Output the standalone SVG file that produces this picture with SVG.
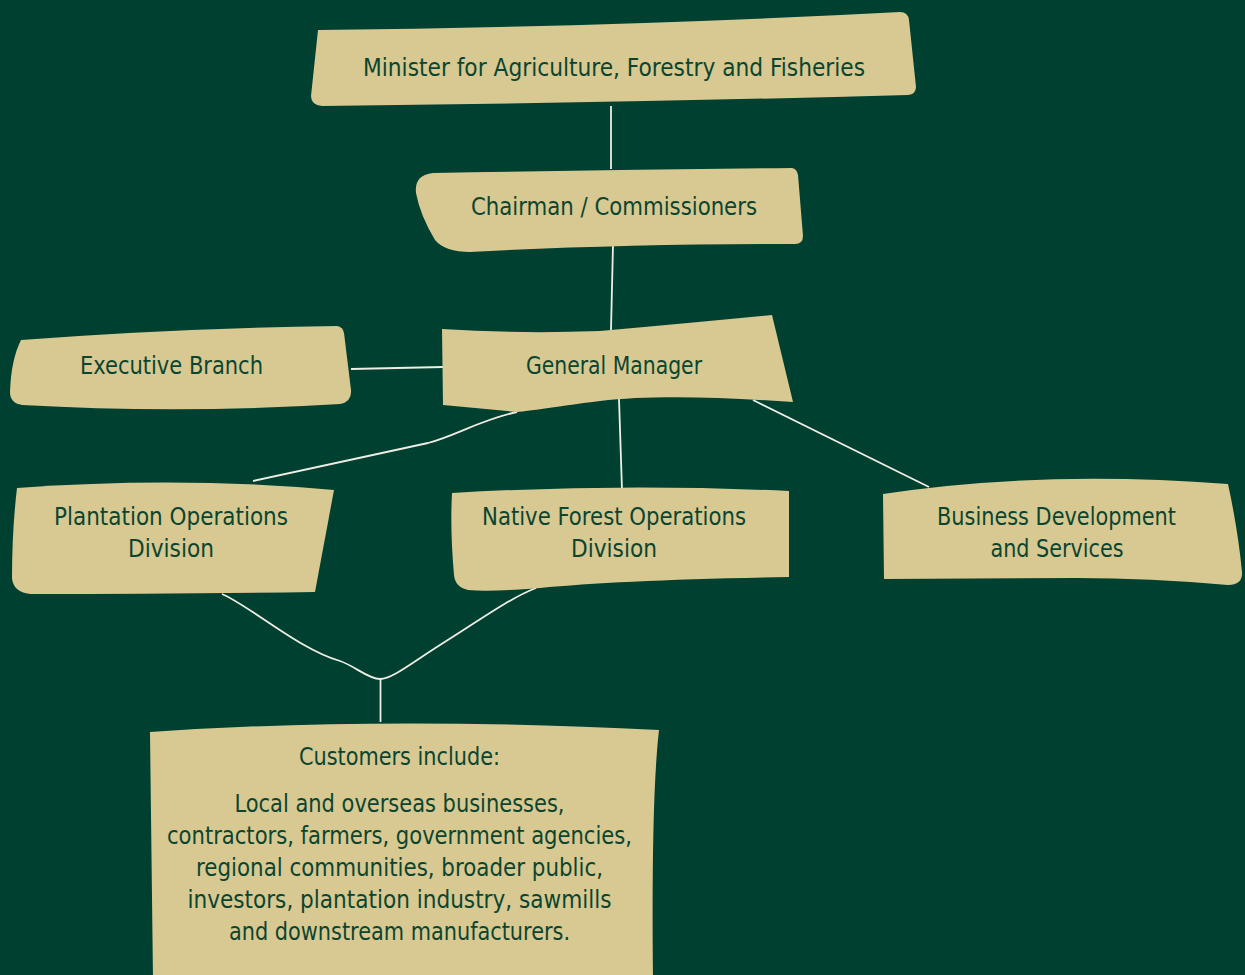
<svg xmlns="http://www.w3.org/2000/svg" width="1245" height="975" viewBox="0 0 1245 975">
<style>
.box{fill:#D8C992;stroke:none}
.t{font-family:"DejaVu Sans Condensed","DejaVu Sans",sans-serif;font-stretch:condensed;font-size:25px;fill:#0B4530;text-anchor:middle}
.c{fill:none;stroke:#EEEEE6;stroke-width:1.8}
</style>
<rect width="1245" height="975" fill="#004030"/>
<g id="connectors">
<path class="c" d="M611,106 L611,169"/>
<path class="c" d="M613,245 L611,330"/>
<path class="c" d="M351,369 L443,367"/>
<path class="c" d="M517,412 C480,420 455,436 428,443 L253,481"/>
<path class="c" d="M619,399 L622,490"/>
<path class="c" d="M753,400 L929,487"/>
<path class="c" d="M222,594 C250,606 300,650 340,661 C355,666 368,679 380,679 C392,679 410,664 440,645 C480,620 510,598 536,588"/>
<path class="c" d="M380.5,679 L380.5,722"/>
</g>
<g id="minister">
<path class="box" d="M318,30 Q620,27 900,12 Q908,12 909,20 L916,87 Q916,94 908,95 Q610,103 322,106 Q311,105 311,96 Z"/>
<text class="t" x="614" y="76" textLength="502" lengthAdjust="spacingAndGlyphs">Minister for Agriculture, Forestry and Fisheries</text>
</g>
<g id="chairman">
<path class="box" d="M433,173 Q620,170 792,168 Q797,169 798,175 L803,236 Q803,244 795,244 Q620,244 470,252 Q445,252 435,240 Q420,215 416,193 Q414,175 433,173 Z"/>
<text class="t" x="614" y="215" textLength="286" lengthAdjust="spacingAndGlyphs">Chairman / Commissioners</text>
</g>
<g id="general-manager">
<path class="box" d="M442,329 Q520,334 600,331 Q690,323 772,315 L793,402 C720,397 650,395 600,401 C560,406 530,411 517,412 L443,405 Z"/>
<text class="t" x="614" y="374" textLength="176" lengthAdjust="spacingAndGlyphs">General Manager</text>
</g>
<g id="executive">
<path class="box" d="M21,340 Q180,328 337,326 Q343,327 344,333 L351,390 Q352,402 340,404 Q180,414 22,405 Q10,403 10,392 Q11,360 21,340 Z"/>
<text class="t" x="171.5" y="374" textLength="183" lengthAdjust="spacingAndGlyphs">Executive Branch</text>
</g>
<g id="plantation">
<path class="box" d="M17,488 Q180,476 334,490 L315,592 Q170,594 30,594 Q13,592 12,578 Q12,530 17,488 Z"/>
<text class="t" x="171" y="525" textLength="234" lengthAdjust="spacingAndGlyphs">Plantation Operations</text>
<text class="t" x="171" y="557" textLength="86" lengthAdjust="spacingAndGlyphs">Division</text>
</g>
<g id="native-forest">
<path class="box" d="M452,493 Q620,483 789,491 L789,577 Q620,580 540,588 Q490,592 468,590 Q455,587 454,575 Q450,530 452,493 Z"/>
<text class="t" x="614" y="525" textLength="264" lengthAdjust="spacingAndGlyphs">Native Forest Operations</text>
<text class="t" x="614" y="557" textLength="86" lengthAdjust="spacingAndGlyphs">Division</text>
</g>
<g id="business">
<path class="box" d="M883,494 Q1040,470 1228,484 Q1238,530 1242,572 Q1243,585 1228,585 Q1150,578 1076,578 L884,579 Z"/>
<text class="t" x="1056.5" y="525" textLength="239" lengthAdjust="spacingAndGlyphs">Business Development</text>
<text class="t" x="1057" y="557" textLength="133" lengthAdjust="spacingAndGlyphs">and Services</text>
</g>
<g id="customers">
<path class="box" d="M150,732 Q380,716 659,730 Q651,800 653,980 L153,980 Z"/>
<text class="t" x="399.5" y="765" textLength="201" lengthAdjust="spacingAndGlyphs">Customers include:</text>
<text class="t" x="399.5" y="812" textLength="330" lengthAdjust="spacingAndGlyphs">Local and overseas businesses,</text>
<text class="t" x="399.5" y="844" textLength="465" lengthAdjust="spacingAndGlyphs">contractors, farmers, government agencies,</text>
<text class="t" x="399.5" y="876" textLength="407" lengthAdjust="spacingAndGlyphs">regional communities, broader public,</text>
<text class="t" x="399.5" y="908" textLength="424" lengthAdjust="spacingAndGlyphs">investors, plantation industry, sawmills</text>
<text class="t" x="399.5" y="940" textLength="341" lengthAdjust="spacingAndGlyphs">and downstream manufacturers.</text>
</g>
</svg>
